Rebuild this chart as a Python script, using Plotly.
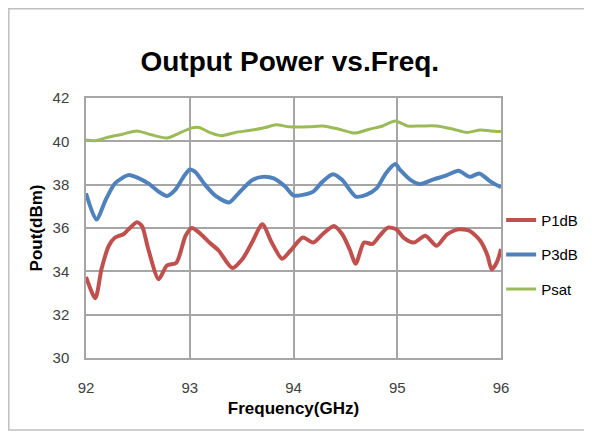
import plotly.graph_objects as go

# 数据
f_p1 = [92.00, 92.09, 92.15, 92.22, 92.28, 92.36, 92.41, 92.49, 92.54, 92.60,
        92.70, 92.78, 92.87, 92.96, 93.02, 93.09, 93.19, 93.28, 93.41, 93.51,
        93.60, 93.70, 93.79, 93.89, 93.97, 94.09, 94.19, 94.28, 94.39, 94.47,
        94.54, 94.60, 94.68, 94.76, 94.83, 94.91, 94.99, 95.06, 95.16, 95.27,
        95.38, 95.48, 95.59, 95.70, 95.80, 95.87, 95.91, 95.96, 96.00]
p1db = [33.74, 32.76, 34.12, 35.18, 35.56, 35.71, 35.94, 36.27, 36.09, 35.03,
        33.64, 34.27, 34.39, 35.64, 36.00, 35.79, 35.33, 34.95, 34.15, 34.58,
        35.33, 36.17, 35.33, 34.58, 34.95, 35.56, 35.33, 35.71, 36.09, 35.71,
        35.03, 34.35, 35.33, 35.26, 35.64, 36.02, 35.94, 35.56, 35.33, 35.64,
        35.18, 35.71, 35.94, 35.86, 35.41, 34.73, 34.09, 34.42, 35.03]

f_p3 = [92.00, 92.10, 92.19, 92.28, 92.41, 92.51, 92.60, 92.70, 92.78, 92.86,
        92.94, 93.00, 93.05, 93.15, 93.25, 93.38, 93.47, 93.60, 93.70, 93.81,
        93.92, 94.00, 94.09, 94.19, 94.28, 94.38, 94.47, 94.60, 94.70, 94.80,
        94.89, 94.98, 95.03, 95.13, 95.22, 95.35, 95.48, 95.59, 95.70, 95.79,
        95.90, 96.00]
p3db = [37.60, 36.39, 37.30, 38.06, 38.44, 38.29, 38.06, 37.68, 37.48, 37.76,
        38.36, 38.70, 38.60, 37.98, 37.48, 37.18, 37.60, 38.20, 38.36, 38.29,
        37.91, 37.50, 37.53, 37.68, 38.14, 38.48, 38.21, 37.45, 37.53, 37.83,
        38.52, 38.95, 38.67, 38.21, 38.03, 38.24, 38.44, 38.64, 38.36, 38.52,
        38.14, 37.88]

f_sat = [92.00, 92.09, 92.22, 92.35, 92.49, 92.63, 92.78, 92.89, 93.02, 93.09,
         93.19, 93.30, 93.44, 93.60, 93.73, 93.83, 93.96, 94.15, 94.28, 94.44,
         94.59, 94.73, 94.86, 94.98, 95.10, 95.22, 95.38, 95.54, 95.67, 95.80,
         95.90, 96.00]
psat = [40.06, 40.03, 40.20, 40.33, 40.48, 40.30, 40.15, 40.36, 40.62, 40.64,
        40.41, 40.26, 40.41, 40.52, 40.64, 40.76, 40.67, 40.67, 40.71, 40.56,
        40.38, 40.56, 40.71, 40.94, 40.71, 40.71, 40.71, 40.56, 40.41, 40.52,
        40.48, 40.45]

x_ticks = [92, 93, 94, 95, 96]
y_ticks = [30, 32, 34, 36, 38, 40, 42]

COLORS = {
    'p1': '#C0504D',
    'p3': '#4F81BD',
    'sat': '#9BBB59',
    'grid': '#A6A6A6',
    'text': '#404040',
}

FONT = 'Liberation Sans, Arial, sans-serif'

fig = go.Figure()

series = [
    ('P1dB', f_p1, p1db, COLORS['p1'], 4),
    ('P3dB', f_p3, p3db, COLORS['p3'], 4),
    ('Psat', f_sat, psat, COLORS['sat'], 3),
]
for name, xs, ys, color, w in series:
    fig.add_trace(go.Scatter(
        x=xs, y=ys, name=name, mode='lines',
        line=dict(color=color, width=w, shape='spline', smoothing=0.7),
        legendgroup=name,
    ))

# 外框 (页面自带 8px 边距, 所以整体往左上移)
fig.add_shape(type='rect', xref='paper', yref='paper',
              x0=-0.186, x1=1.214, y0=-0.277, y1=1.343,
              line=dict(color='#BFBFBF', width=1.5), layer='below')

fig.update_layout(
    width=592, height=433,
    margin=dict(l=78, r=99, t=90, b=83),
    paper_bgcolor='white', plot_bgcolor='white',
    font=dict(family=FONT, color=COLORS['text']),
    title=dict(text='<b>Output Power vs.Freq.</b>', x=0.476, xanchor='center',
               y=0.878, yanchor='middle',
               font=dict(family=FONT, size=28, color='black')),
    xaxis=dict(
        range=[92, 96], tickvals=x_ticks, ticks='', ticklabelstandoff=15,
        showgrid=True, gridcolor=COLORS['grid'], gridwidth=1.5,
        showline=True, linecolor=COLORS['grid'], linewidth=1.5, mirror=True,
        zeroline=False, tickfont=dict(size=15), automargin=False,
        title=dict(text='<b>Frequency(GHz)</b>', standoff=7,
                   font=dict(size=17, color='black')),
    ),
    yaxis=dict(
        range=[30, 42], tickvals=y_ticks, ticks='', ticklabelstandoff=12,
        showgrid=True, gridcolor=COLORS['grid'], gridwidth=1.5,
        showline=True, linecolor=COLORS['grid'], linewidth=1.5, mirror=True,
        zeroline=False, tickfont=dict(size=15), automargin=False,
        title=dict(text='<b>Pout(dBm)</b>', standoff=6,
                   font=dict(size=17, color='black')),
    ),
    legend=dict(xref='container', yref='container',
                x=0.833, xanchor='left', y=0.43, yanchor='middle',
                font=dict(size=15, color='black'), tracegroupgap=12,
                bgcolor='rgba(0,0,0,0)'),
    showlegend=True,
)

fig.write_html("out.html")
